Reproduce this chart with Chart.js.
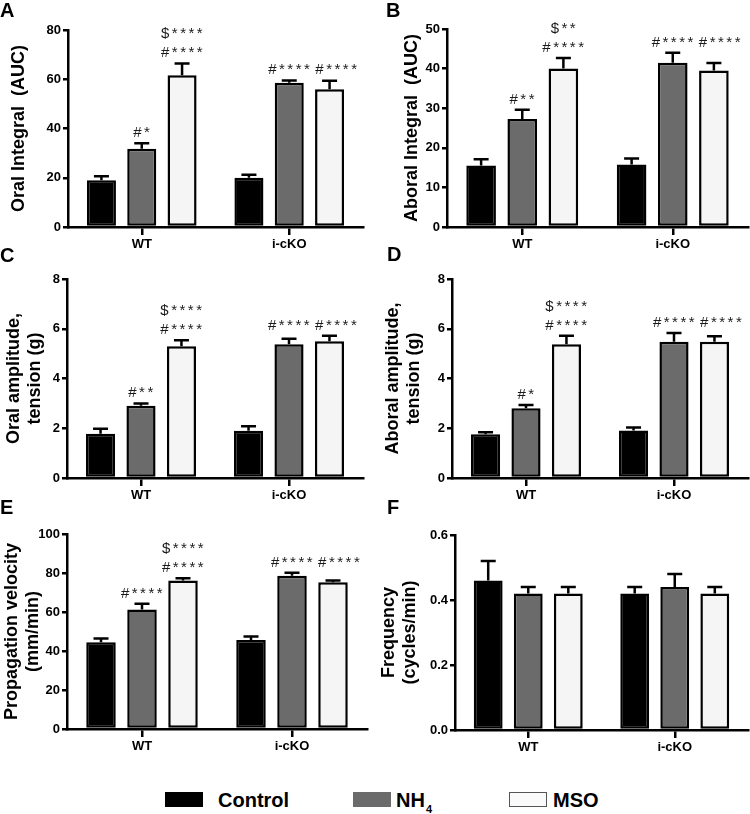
<!DOCTYPE html>
<html>
<head>
<meta charset="utf-8">
<script src="https://cdn.jsdelivr.net/npm/chart.js@4.4.1/dist/chart.umd.min.js"></script>
<style>
  body { margin: 0; background: #fff; font-family: "Liberation Sans", Arial, sans-serif; }
  #wrap { position: relative; width: 750px; height: 814px; overflow: hidden; }
  canvas { position: absolute; }
  .letter { position: absolute; font-weight: bold; font-size: 20px; line-height: 20px; color: #000; }
  .box { position: absolute; top: 792px; width: 38px; height: 15px; box-sizing: border-box; }
  .lab { position: absolute; top: 790px; font-weight: bold; font-size: 20px; line-height: 20px; color: #000; white-space: nowrap; }
  .lab sub { font-size: 11px; vertical-align: -6px; margin-left: 1px; }
</style>
</head>
<body>
<div id="wrap">
  <canvas id="cA" width="375" height="270" style="left:0;top:0"></canvas>
  <canvas id="cB" width="375" height="270" style="left:375px;top:0"></canvas>
  <canvas id="cC" width="375" height="270" style="left:0;top:250px"></canvas>
  <canvas id="cD" width="375" height="270" style="left:375px;top:250px"></canvas>
  <canvas id="cE" width="375" height="270" style="left:0;top:500px"></canvas>
  <canvas id="cF" width="375" height="270" style="left:375px;top:500px"></canvas>

  <div class="letter" style="left:0;top:0">A</div>
  <div class="letter" style="left:386px;top:0">B</div>
  <div class="letter" style="left:0;top:245px">C</div>
  <div class="letter" style="left:387px;top:244px">D</div>
  <div class="letter" style="left:0;top:497px">E</div>
  <div class="letter" style="left:387px;top:497px">F</div>

  <div class="box" style="left:165px;background:#000"></div>
  <div class="lab" style="left:218px">Control</div>
  <div class="box" style="left:353px;background:#6b6b6b"></div>
  <div class="lab" style="left:396px">NH<sub>4</sub></div>
  <div class="box" style="left:509px;background:#fafafa;border:1.5px solid #555"></div>
  <div class="lab" style="left:553px">MSO</div>
</div>

<script>
const groups = ["WT", "i-cKO"];
const treatments = ["Control", "NH4", "MSO"];

// rows: Control, NH4, MSO; columns: WT, i-cKO
// A - oral integral
const oralAucMean = [[19.0, 20.0], [31.8, 58.6], [61.6, 55.9]];
const oralAucErr = [[1.6, 1.2], [2.2, 0.9], [4.8, 3.5]];
const oralAucNotes = [[[], []], [["#*"], ["#****"]], [["$****", "#****"], ["#****"]]];
const oralAucTicks = [0, 20, 40, 60, 80];

// B - aboral integral
const aboralAucMean = [[15.5, 15.8], [27.3, 41.5], [40.0, 39.5]];
const aboralAucErr = [[1.6, 1.5], [2.3, 2.5], [2.7, 1.9]];
const aboralAucNotes = [[[], []], [["#**"], ["#****"]], [["$**", "#****"], ["#****"]]];
const aboralAucTicks = [0, 10, 20, 30, 40, 50];

// C - oral amplitude
const oralAmpMean = [[1.78, 1.90], [2.90, 5.38], [5.30, 5.50]];
const oralAmpErr = [[0.20, 0.18], [0.10, 0.22], [0.24, 0.22]];
const oralAmpNotes = [[[], []], [["#**"], ["#****"]], [["$****", "#****"], ["#****"]]];
const oralAmpTicks = [0, 2, 4, 6, 8];

// D - aboral amplitude
const aboralAmpMean = [[1.76, 1.91], [2.80, 5.48], [5.38, 5.48]];
const aboralAmpErr = [[0.08, 0.12], [0.13, 0.35], [0.34, 0.22]];
const aboralAmpNotes = [[[], []], [["#*"], ["#****"]], [["$****", "#****"], ["#****"]]];
const aboralAmpTicks = [0, 2, 4, 6, 8];

// E - propagation velocity
const velocityMean = [[44.5, 45.6], [61.3, 78.6], [76.1, 75.2]];
const velocityErr = [[1.9, 1.8], [2.9, 1.5], [1.2, 1.0]];
const velocityNotes = [[[], []], [["#****"], ["#****"]], [["$****", "#****"], ["#****"]]];
const velocityTicks = [0, 20, 40, 60, 80, 100];

// F - frequency
const freqMean = [[0.46, 0.42], [0.42, 0.44], [0.42, 0.42]];
const freqErr = [[0.06, 0.02], [0.02, 0.04], [0.02, 0.02]];
const freqNotes = [[[], []], [[], []], [[], []]];
const freqTicks = [0, 0.2, 0.4, 0.6];

const fills = ["#000000", "#6b6b6b", "#f5f5f5"];

Chart.defaults.font.family = "'Liberation Sans', Arial, sans-serif";
Chart.defaults.color = "#000";

// upper error bars + significance marks
const errorBars = {
  id: "errorBars",
  afterDatasetsDraw(chart) {
    const { ctx } = chart;
    const y = chart.scales.y;
    ctx.save();
    ctx.strokeStyle = "#000";
    ctx.lineWidth = 2.5;
    const marks = [];
    chart.data.datasets.forEach((ds, i) => {
      chart.getDatasetMeta(i).data.forEach((bar, j) => {
        const yt = y.getPixelForValue(ds.data[j] + ds.err[j]);
        ctx.beginPath();
        ctx.moveTo(bar.x, bar.y);
        ctx.lineTo(bar.x, yt);
        ctx.moveTo(bar.x - 7.5, yt);
        ctx.lineTo(bar.x + 7.5, yt);
        ctx.stroke();
        if (ds.notes[j].length) marks.push({ x: bar.x, yt: yt, g: j, lines: ds.notes[j] });
      });
    });
    ctx.font = "15px 'Liberation Sans', Arial, sans-serif";
    ctx.letterSpacing = "2.5px";
    ctx.textAlign = "left";
    ctx.fillStyle = "#1a1a1a";
    const near = (y.bottom - y.top) * 0.1;
    marks.forEach(m => {
      m.base = m.yt;
      marks.forEach(o => {
        if (o.g === m.g && Math.abs(o.yt - m.yt) < near) m.base = Math.min(m.base, o.yt);
      });
      m.w = Math.max(...m.lines.map(ln => ctx.measureText(ln).width));
      m.left = m.x - m.w / 2;
    });
    // keep marks sharing a row from running into each other
    marks.sort((a, b) => a.x - b.x);
    marks.forEach((m, k) => {
      for (let p = 0; p < k; p++) {
        const o = marks[p];
        if (o.base === m.base && m.left < o.left + o.w + 3) m.left = o.left + o.w + 3;
      }
      const n = m.lines.length;
      m.lines.forEach((ln, i) => {
        const lw = ctx.measureText(ln).width;
        ctx.fillText(ln, m.left + (m.w - lw) / 2 + 1, m.base - 6 - (n - 1 - i) * 19);
      });
    });
    ctx.restore();
  }
};

function makePanel(id, mean, err, notes, ticks, title, g, fmt) {
  new Chart(document.getElementById(id), {
    type: "bar",
    data: {
      labels: groups,
      datasets: treatments.map((t, i) => ({
        label: t,
        data: mean[i],
        err: err[i],
        notes: notes[i],
        backgroundColor: fills[i],
        borderColor: "#000",
        borderWidth: 2.5,
        borderSkipped: false,
        categoryPercentage: 0.82,
        barPercentage: 0.72
      }))
    },
    options: {
      responsive: false,
      animation: false,
      layout: { padding: { top: g.padTop, right: g.padRight, left: 0, bottom: 0 } },
      plugins: { legend: { display: false }, tooltip: { enabled: false } },
      scales: {
        x: {
          grid: { display: true, drawOnChartArea: false, offset: false, tickLength: 8, color: "#000", lineWidth: 2.5 },
          border: { color: "#000", width: 2.5 },
          ticks: { color: "#000", font: { size: 13, weight: "bold" }, padding: 2 },
          afterFit: s => { s.height = g.xHeight; }
        },
        y: {
          min: ticks[0],
          max: ticks[ticks.length - 1],
          afterBuildTicks: s => { s.ticks = ticks.map(v => ({ value: v })); },
          grid: { display: true, drawOnChartArea: false, tickLength: 5, color: "#000", lineWidth: 2.5 },
          border: { color: "#000", width: 2.5 },
          ticks: { color: "#000", font: { size: 13, weight: "bold" }, padding: 2, callback: fmt || (v => v) },
          title: {
            display: true, text: title, color: "#000",
            font: { size: 18, weight: "bold", lineHeight: 1.2 },
            padding: { top: g.titlePad, bottom: 0 }
          },
          afterFit: s => { s.width = g.yWidth; }
        }
      }
    },
    plugins: [errorBars]
  });
}

makePanel("cA", oralAucMean, oralAucErr, oralAucNotes, oralAucTicks, "Oral Integral  (AUC)",
  { padTop: 30, padRight: 12, xHeight: 43, yWidth: 68, titlePad: 8 });
makePanel("cB", aboralAucMean, aboralAucErr, aboralAucNotes, aboralAucTicks, "Aboral Integral  (AUC)",
  { padTop: 29, padRight: 2, xHeight: 43, yWidth: 72, titlePad: 26 });
makePanel("cC", oralAmpMean, oralAmpErr, oralAmpNotes, oralAmpTicks, ["Oral amplitude,", "tension (g)"],
  { padTop: 29, padRight: 12, xHeight: 42, yWidth: 67, titlePad: 3 });
makePanel("cD", aboralAmpMean, aboralAmpErr, aboralAmpNotes, aboralAmpTicks, ["Aboral amplitude,", "tension (g)"],
  { padTop: 29, padRight: 2, xHeight: 42, yWidth: 77, titlePad: 7 });
makePanel("cE", velocityMean, velocityErr, velocityNotes, velocityTicks, ["Propagation velocity", "(mm/min)"],
  { padTop: 34, padRight: 8, xHeight: 41, yWidth: 67, titlePad: 1 });
makePanel("cF", freqMean, freqErr, freqNotes, freqTicks, ["Frequency", "(cycles/min)"],
  { padTop: 35, padRight: 2, xHeight: 40, yWidth: 80, titlePad: 3 }, v => v.toFixed(1));
</script>
</body>
</html>
